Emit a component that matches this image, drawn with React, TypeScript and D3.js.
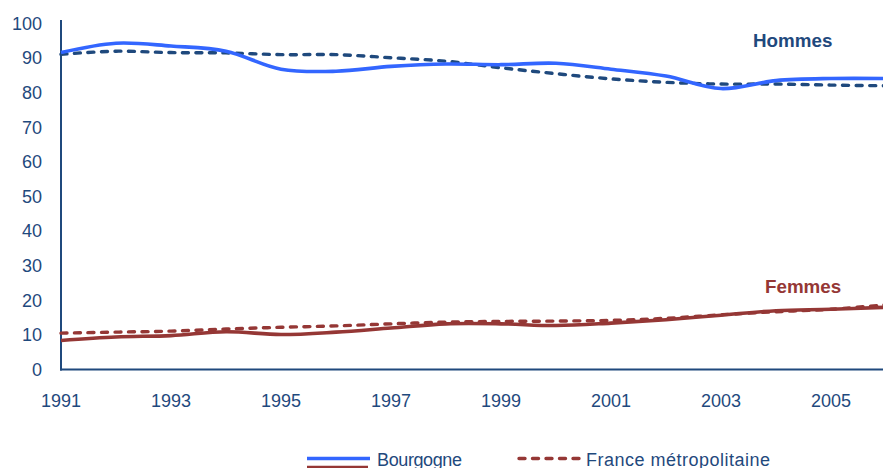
import React from "react";
import * as d3 from "d3";

const years = [1991, 1992, 1993, 1994, 1995, 1996, 1997, 1998, 1999, 2000, 2001, 2002, 2003, 2004, 2005, 2006];
const hommesBourgogne = [91.6, 94.3, 93.5, 92.0, 86.8, 86.2, 87.6, 88.3, 88.1, 88.5, 86.8, 84.8, 81.2, 83.5, 84.1, 84.1];
const hommesFrance = [91.1, 92.0, 91.6, 91.5, 91.0, 91.0, 90.1, 89.1, 87.2, 85.5, 84.0, 83.0, 82.5, 82.5, 82.2, 82.0];
const femmesBourgogne = [8.4, 9.4, 9.8, 10.9, 10.1, 10.8, 12.0, 13.2, 13.2, 12.7, 13.4, 14.4, 15.7, 17.0, 17.4, 18.0];
const femmesFrance = [10.5, 10.8, 11.1, 11.7, 12.2, 12.6, 13.2, 13.7, 13.9, 14.0, 14.2, 14.8, 15.8, 16.7, 17.4, 18.7];
const yTicks = [0, 10, 20, 30, 40, 50, 60, 70, 80, 90, 100];
const xTicks = [1991, 1993, 1995, 1997, 1999, 2001, 2003, 2005];
const legendLabels = ["Bourgogne", "France métropolitaine"];
const groupLabels = ["Hommes", "Femmes"];

const NAVY = "#1F497D";
const BLUE = "#3366FF";
const RED = "#953735";
const FONT = "'Liberation Sans', Arial, sans-serif";
const DASH = "6,7.5";

export default function App() {
  const x = d3.scaleLinear().domain([1991, 2006]).range([61, 886]);
  const y = d3.scaleLinear().domain([0, 100]).range([369.5, 23.5]);
  const line = d3
    .line<number>()
    .x((_, i) => x(years[i]))
    .y((d) => y(d))
    .curve(d3.curveCatmullRom.alpha(0.5));

  return (
    <svg
      width={883}
      height={468}
      style={{ position: "absolute", left: 0, top: 0, background: "#fff" }}
      fontFamily={FONT}
    >
      {/* axes */}
      <line x1={61} x2={61} y1={20} y2={370.5} stroke={NAVY} strokeWidth={2} />
      <line x1={60} x2={883} y1={369.5} y2={369.5} stroke={NAVY} strokeWidth={2} />
      {yTicks.map((t) => (
        <text key={t} x={42} y={y(t)} dy="0.35em" textAnchor="end" fontSize={18} fill={NAVY}>
          {t}
        </text>
      ))}
      {xTicks.map((t) => (
        <text key={t} x={x(t)} y={406.5} textAnchor="middle" fontSize={18} fill={NAVY}>
          {t}
        </text>
      ))}

      {/* series */}
      <path d={line(hommesFrance) || ""} fill="none" stroke={NAVY} strokeWidth={3.4} strokeDasharray={DASH} strokeLinecap="round" />
      <path d={line(hommesBourgogne) || ""} fill="none" stroke={BLUE} strokeWidth={3.6} />
      <path d={line(femmesFrance) || ""} fill="none" stroke={RED} strokeWidth={3.4} strokeDasharray={DASH} strokeLinecap="round" />
      <path d={line(femmesBourgogne) || ""} fill="none" stroke={RED} strokeWidth={3.6} />

      {/* group labels */}
      <text x={753} y={46.7} fontSize={18.8} fontWeight="bold" fill={NAVY}>
        {groupLabels[0]}
      </text>
      <text x={765} y={292.7} fontSize={18.8} fontWeight="bold" fill={RED}>
        {groupLabels[1]}
      </text>

      {/* legend */}
      <line x1={307} x2={370} y1={458.5} y2={458.5} stroke={BLUE} strokeWidth={3.5} />
      <line x1={307} x2={368} y1={467.5} y2={467.5} stroke={RED} strokeWidth={3.5} />
      <text x={377} y={465.5} fontSize={18} fill={NAVY} textLength={85} lengthAdjust="spacing">
        {legendLabels[0]}
      </text>
      <line x1={519} x2={579} y1={458.5} y2={458.5} stroke={RED} strokeWidth={3.4} strokeDasharray={DASH} strokeLinecap="round" />
      <text x={586} y={465.5} fontSize={18} fill={NAVY} textLength={184} lengthAdjust="spacing">
        {legendLabels[1]}
      </text>
    </svg>
  );
}
